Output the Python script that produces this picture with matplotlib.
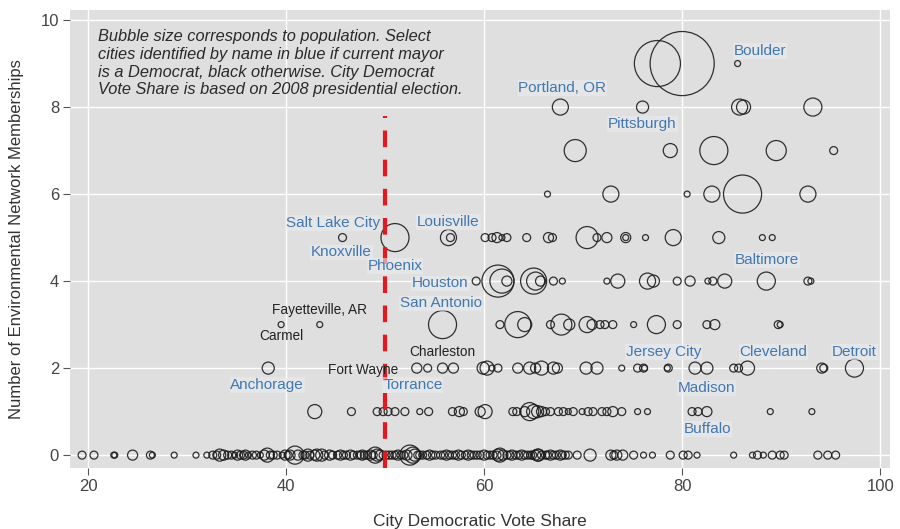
import matplotlib
matplotlib.use("Agg")
import matplotlib.pyplot as plt
import numpy as np

plt.rcParams["font.family"] = ["Liberation Sans", "DejaVu Sans"]
plt.rcParams["lines.scale_dashes"] = False

# Bubbles, one row per number of network memberships
# vote share (%) and population (thousands)
vote_9 = [77.5, 80.0, 85.6]
pop_9 = [775, 1500, 13]

vote_8 = [67.7, 76.0, 85.8, 86.2, 93.2]
pop_8 = [94, 53, 94, 72, 119]

vote_7 = [69.2, 78.8, 83.2, 89.5, 95.3]
pop_7 = [177, 72, 287, 147, 23]

vote_6 = [66.4, 72.8, 80.5, 83.0, 86.1, 92.7]
pop_6 = [13, 94, 13, 94, 529, 94]

vote_5 = [45.7, 51.0, 56.4, 56.6, 60.1, 60.8, 61.3, 61.8, 62.3, 64.3, 66.5,
          66.9, 70.4, 71.4, 72.4, 74.3, 74.3, 76.3, 79.1, 83.7, 88.1, 89.1]
pop_5 = [23, 287, 94, 23, 23, 23, 37, 13, 23, 23, 37,
         23, 177, 23, 37, 37, 13, 13, 94, 53, 13, 13]

vote_4 = [59.2, 61.4, 61.8, 62.3, 65.0, 65.2, 65.7, 67.0, 67.9, 72.4, 73.5,
          76.5, 77.1, 79.5, 80.8, 82.6, 83.1, 84.3, 88.5, 92.7, 93.0]
pop_4 = [23, 375, 211, 37, 248, 119, 37, 23, 13, 13, 72,
         94, 53, 23, 37, 13, 23, 72, 119, 23, 13]

vote_3 = [39.5, 43.4, 55.8, 61.6, 63.4, 64.1, 66.7, 67.8, 68.6, 70.4, 70.9,
          71.7, 72.2, 73.0, 75.1, 77.4, 79.5, 82.5, 83.3, 89.7, 89.9]
pop_3 = [13, 13, 287, 23, 248, 72, 23, 160, 45, 94, 37,
         23, 23, 23, 13, 119, 23, 23, 37, 23, 13]

vote_2 = [38.2, 53.2, 54.3, 55.8, 56.9, 59.9, 60.3, 60.8, 61.4, 63.4, 64.6,
          65.2, 65.8, 67.0, 67.4, 70.3, 71.4, 73.9, 75.5, 76.1, 76.2, 78.5,
          78.6, 81.3, 82.5, 85.2, 85.7, 86.6, 94.1, 94.3, 97.4]
pop_2 = [53, 37, 23, 37, 37, 53, 72, 13, 23, 37, 53,
         37, 72, 53, 37, 53, 53, 13, 23, 23, 13, 13,
         23, 53, 53, 23, 23, 72, 37, 23, 119]

vote_1 = [42.9, 46.6, 49.2, 49.8, 50.3, 51.0, 52.0, 53.5, 54.4, 56.8, 57.5,
          57.9, 59.6, 60.1, 62.9, 63.3, 64.1, 64.6, 65.0, 65.4, 65.8, 66.2,
          66.7, 67.5, 68.0, 68.5, 69.0, 69.9, 70.5, 71.0, 71.9, 72.4, 73.0,
          73.9, 75.5, 76.5, 81.0, 81.6, 82.5, 88.9, 93.1]
pop_1 = [72, 23, 23, 23, 23, 23, 23, 13, 23, 23, 37,
         23, 37, 72, 23, 23, 37, 119, 72, 53, 37, 23,
         23, 23, 23, 13, 23, 13, 23, 23, 23, 23, 37,
         23, 13, 13, 23, 23, 37, 13, 13]

vote_0 = [19.4, 20.6, 22.6, 22.7, 24.5, 26.3, 26.5, 28.7, 30.9, 32.0, 32.6,
          33.0, 33.3, 33.7, 34.1, 34.5, 34.8, 35.1, 35.4, 35.7, 35.9, 36.2,
          36.6, 37.0, 37.4, 37.8, 38.1, 38.4, 38.7, 39.1, 39.6, 39.9, 40.2,
          40.4, 40.9, 41.2, 41.7, 41.9, 42.2, 42.4, 42.9, 43.1, 43.6, 43.9,
          44.4, 44.7, 45.2, 45.5, 45.8, 46.1, 46.5, 46.8, 47.2, 47.5, 47.7,
          47.9, 48.2, 48.5, 48.8, 49.0, 49.2, 49.5, 49.8, 50.1, 50.4, 50.7,
          51.0, 51.3, 51.6, 51.9, 52.2, 52.5, 52.8, 53.0, 53.3, 53.5, 53.8,
          54.2, 54.5, 54.8, 55.1, 55.6, 55.9, 56.2, 56.5, 56.8, 57.1, 57.4,
          57.7, 58.1, 58.4, 58.7, 59.0, 59.3, 59.6, 60.0, 60.3, 60.6, 60.9,
          61.3, 61.4, 61.6, 61.9, 62.3, 62.6, 62.8, 63.2, 63.5, 63.8, 64.1,
          64.4, 64.7, 64.9, 65.2, 65.4, 65.5, 65.8, 66.2, 66.4, 66.7, 67.0,
          67.3, 67.7, 67.9, 68.2, 68.5, 69.4, 70.7, 72.8, 73.1, 73.4, 74.0,
          75.1, 76.1, 77.0, 78.8, 80.1, 80.6, 81.5, 85.2, 87.1, 87.6, 88.2,
          89.1, 89.9, 90.3, 93.7, 94.7, 95.5]
pop_0 = [23, 23, 13, 13, 37, 23, 13, 13, 13, 13, 23,
         23, 53, 37, 23, 23, 13, 37, 23, 23, 37, 13,
         23, 23, 13, 37, 72, 23, 23, 23, 13, 37, 23,
         37, 119, 37, 23, 23, 53, 23, 37, 53, 53, 23,
         37, 23, 23, 37, 23, 23, 37, 23, 23, 23, 37,
         23, 23, 37, 23, 94, 53, 37, 23, 23, 23, 23,
         23, 37, 23, 23, 37, 147, 94, 53, 23, 23, 23,
         23, 37, 23, 23, 23, 23, 37, 23, 23, 23, 37,
         23, 23, 37, 23, 23, 23, 23, 37, 23, 23, 23,
         23, 53, 72, 37, 23, 23, 37, 23, 23, 37, 23,
         23, 23, 23, 37, 53, 53, 23, 23, 23, 37, 23,
         23, 37, 23, 23, 23, 23, 53, 37, 23, 37, 37,
         23, 13, 13, 23, 23, 23, 13, 13, 13, 23, 13,
         23, 23, 23, 23, 23, 23]

# Named cities: label, label anchor (vote share, memberships), Democrat mayor?
city_names = ["Boulder", "Portland, OR", "Pittsburgh", "Salt Lake City",
              "Knoxville", "Phoenix", "Louisville", "Houston", "San Antonio",
              "Fayetteville, AR", "Carmel", "Charleston", "Fort Wayne",
              "Torrance", "Anchorage", "Baltimore", "Jersey City",
              "Cleveland", "Detroit", "Madison", "Buffalo"]
city_dem = [True, True, True, True, True, True, True, True, True,
            False, False, False, False, True, True, True, True,
            True, True, True, True]
label_x = [87.9, 67.9, 76.0, 44.7, 45.6, 51.0, 56.4, 55.6, 55.6,
           43.4, 39.5, 55.8, 47.8, 52.8, 38.1, 88.6, 78.1,
           89.2, 97.4, 82.5, 82.6]
label_y = [9.29, 8.44, 7.61, 5.33, 4.66, 4.35, 5.36, 3.95, 3.49,
           3.33, 2.74, 2.37, 1.95, 1.61, 1.61, 4.48, 2.37,
           2.37, 2.37, 1.54, 0.60]

threshold = 50
threshold_top = 7.8

note = ("Bubble size corresponds to population. Select\n"
        "cities identified by name in blue if current mayor\n"
        "is a Democrat, black otherwise. City Democrat\n"
        "Vote Share is based on 2008 presidential election.")

rows = {9: (vote_9, pop_9), 8: (vote_8, pop_8), 7: (vote_7, pop_7),
        6: (vote_6, pop_6), 5: (vote_5, pop_5), 4: (vote_4, pop_4),
        3: (vote_3, pop_3), 2: (vote_2, pop_2), 1: (vote_1, pop_1),
        0: (vote_0, pop_0)}

vote = np.concatenate([np.array(v, float) for v, p in rows.values()])
pop = np.concatenate([np.array(p, float) for v, p in rows.values()])
members = np.concatenate([np.full(len(v), k, float) for k, (v, p) in rows.items()])

# Define plot
fig = plt.figure(figsize=(9, 5.29), dpi=100)
ax = fig.add_axes([0.078, 0.115, 0.911, 0.866])
ax.set_facecolor("#dfdfdf")
for s in ax.spines.values():
    s.set_visible(False)

ax.set_xlim(18.2, 101.0)
ax.set_ylim(-0.3, 10.23)
ax.set_xticks([20, 40, 60, 80, 100])
ax.set_yticks([0, 2, 4, 6, 8, 10])
ax.grid(True, color="white", linewidth=1.0)
ax.set_axisbelow(True)
ax.tick_params(direction="out", length=5, width=0.8, color="#555555",
               labelcolor="#444444", labelsize=12, pad=3)

# Bubbles
ax.scatter(vote, members, s=pop * 1.42, facecolors="none",
           edgecolors="#1c1c1c", linewidths=0.9, alpha=0.9, zorder=3)

# Red dashed threshold line
ax.plot([threshold, threshold], [-0.3, threshold_top], color="#e3191f",
        linewidth=3, dashes=(12, 9), zorder=4)

# City labels
for name, x, y, dem in zip(city_names, label_x, label_y, city_dem):
    if dem:
        ax.text(x, y, name, color="#4477b0", fontsize=11, ha="center",
                va="center", zorder=5,
                bbox=dict(boxstyle="square,pad=0.05", fc="#e8ebee",
                          ec="none", alpha=0.6))
    else:
        ax.text(x, y, name, color="#222222", fontsize=9.8, ha="center",
                va="center", zorder=5)

ax.text(0.034, 0.958, note, transform=ax.transAxes, fontsize=11.8,
        style="italic", color="#2a2a2a", va="top", ha="left",
        linespacing=1.22, zorder=5)

ax.set_xlabel("City Democratic Vote Share", fontsize=12.5, color="#333333",
              labelpad=14)
ax.set_ylabel("Number of Environmental Network Memberships", fontsize=12,
              color="#333333", labelpad=12)

fig.savefig("out.png", dpi=100)
plt.close(fig)
